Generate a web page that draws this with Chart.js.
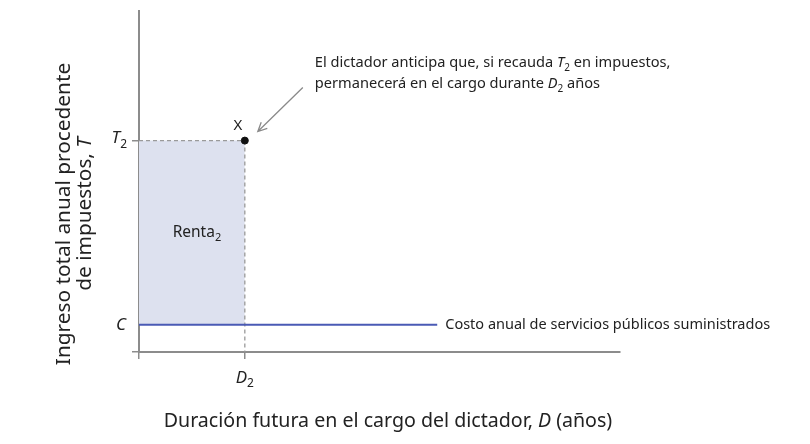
<!DOCTYPE html>
<html lang="es">
<head>
<meta charset="UTF-8">
<title>Renta del dictador</title>
<script src="https://cdn.jsdelivr.net/npm/chart.js"></script>
<style>
  body { margin: 0; background: #fff; }
  #wrap { width: 810px; height: 444px; }
</style>
</head>
<body>
<div id="wrap"><canvas id="rentChart" width="810" height="444"></canvas></div>
<script>
// Values (axes have no units, so 0..10 on both)
const xRange = [0, 10];
const yRange = [0, 10];
const durationD2 = 2.2;     // D2
const taxT2 = 6.2;          // T2
const costC = 0.8;          // C
const costLineEnd = 6.2;    // where the cost line stops
const xTicks = [0, durationD2];
const yTicks = [0, taxT2];
const xTickLabels = ['', 'D'];
const yTickLabels = ['', 'T'];

const FONT = '"Noto Sans", "Open Sans", sans-serif';
const GREY = '#8c8c8c';

// draws a run of text parts: [text, style] where style is '', 'i' or 'sub'
function drawRich(ctx, parts, x, y, size, align) {
  const fontFor = st => (st === 'i' ? 'italic ' : '') + (st === 'sub' ? Math.round(size * 0.68) : size) + 'px ' + FONT;
  let total = 0;
  parts.forEach(p => { ctx.font = fontFor(p[1]); total += ctx.measureText(p[0]).width; });
  let cx = align === 'center' ? x - total / 2 : align === 'right' ? x - total : x;
  ctx.textAlign = 'left';
  ctx.textBaseline = 'middle';
  parts.forEach(p => {
    ctx.font = fontFor(p[1]);
    ctx.fillText(p[0], cx, p[1] === 'sub' ? y + size * 0.35 : y);
    cx += ctx.measureText(p[0]).width;
  });
}

const labelsPlugin = {
  id: 'labels',
  afterDraw(chart) {
    const ctx = chart.ctx;
    const xs = chart.scales.x, ys = chart.scales.y;
    const px = xs.getPixelForValue(durationD2), py = ys.getPixelForValue(taxT2);
    const pc = ys.getPixelForValue(costC);
    ctx.save();
    ctx.fillStyle = '#222';

    // tick labels
    drawRich(ctx, [[yTickLabels[1], 'i'], ['2', 'sub']], xs.left - 12, py - 2, 17, 'right');
    drawRich(ctx, [['C', 'i']], xs.left - 13, pc, 17, 'right');
    drawRich(ctx, [[xTickLabels[1], 'i'], ['2', 'sub']], px, ys.bottom + 26, 17, 'center');

    // point and area labels
    drawRich(ctx, [['X', '']], px - 7, py - 15, 15, 'center');
    drawRich(ctx, [['Renta', ''], ['2', 'sub']], (xs.left + px) / 2 + 5, (py + pc) / 2, 15.5, 'center');

    // annotation
    drawRich(ctx, [['El dictador anticipa que, si recauda ', ''], ['T', 'i'], ['2', 'sub'], [' en impuestos,', '']], px + 70, py - 78, 14.6, 'left');
    drawRich(ctx, [['permanecerá en el cargo durante ', ''], ['D', 'i'], ['2', 'sub'], [' años', '']], px + 70, py - 57, 14.6, 'left');

    // arrow
    const ax0 = px + 58, ay0 = py - 53, ax1 = px + 13, ay1 = py - 9;
    ctx.strokeStyle = '#8a8a8a';
    ctx.lineWidth = 1.3;
    ctx.beginPath();
    ctx.moveTo(ax0, ay0);
    ctx.lineTo(ax1, ay1);
    const ang = Math.atan2(ay1 - ay0, ax1 - ax0);
    ctx.moveTo(ax1 - 10 * Math.cos(ang - 0.45), ay1 - 10 * Math.sin(ang - 0.45));
    ctx.lineTo(ax1, ay1);
    ctx.lineTo(ax1 - 10 * Math.cos(ang + 0.45), ay1 - 10 * Math.sin(ang + 0.45));
    ctx.stroke();

    // cost line label
    ctx.fillStyle = '#222';
    drawRich(ctx, [['Costo anual de servicios públicos suministrados', '']], xs.getPixelForValue(costLineEnd) + 8, pc, 14.5, 'left');

    // axis titles
    drawRich(ctx, [['Duración futura en el cargo del dictador, ', ''], ['D', 'i'], [' (años)', '']], 388, 421, 19.6, 'center');
    ctx.translate(0, 214);
    ctx.rotate(-Math.PI / 2);
    drawRich(ctx, [['Ingreso total anual procedente', '']], 0, 64, 20.8, 'center');
    drawRich(ctx, [['de impuestos, ', ''], ['T', 'i']], 0, 85, 20.8, 'center');
    ctx.restore();
  }
};

const axisBase = {
  type: 'linear',
  ticks: { display: false },
  grid: { drawOnChartArea: false, drawTicks: true, tickLength: 7, tickColor: GREY, lineWidth: 1.5 },
  border: { color: GREY, width: 2 }
};

new Chart(document.getElementById('rentChart'), {
  type: 'line',
  data: {
    datasets: [
      {
        label: 'X',
        data: [{ x: durationD2, y: taxT2 }],
        showLine: false,
        pointRadius: 3.5,
        pointBackgroundColor: '#111',
        pointBorderColor: '#111'
      },
      {
        label: 'Costo',
        data: [{ x: 0, y: costC }, { x: costLineEnd, y: costC }],
        borderColor: '#4a5ab5',
        borderWidth: 2,
        pointRadius: 0
      },
      {
        label: 'D2',
        data: [{ x: durationD2, y: taxT2 }, { x: durationD2, y: 0 }],
        borderColor: '#9a9a9a',
        borderWidth: 1.3,
        borderDash: [4, 3],
        pointRadius: 0
      },
      {
        label: 'Renta',
        data: [{ x: 0, y: taxT2 }, { x: durationD2, y: taxT2 }],
        borderColor: '#9a9a9a',
        borderWidth: 1.3,
        borderDash: [4, 3],
        backgroundColor: '#dde1ef',
        fill: { value: costC },
        pointRadius: 0
      }
    ]
  },
  options: {
    responsive: false,
    animation: false,
    layout: { padding: { left: 132, right: 190, top: 11, bottom: 85 } },
    plugins: { legend: { display: false }, tooltip: { enabled: false } },
    scales: {
      x: Object.assign({}, axisBase, {
        min: xRange[0], max: xRange[1],
        afterBuildTicks: s => { s.ticks = xTicks.map(v => ({ value: v })); },
        afterFit: s => { s.height = 7; }
      }),
      y: Object.assign({}, axisBase, {
        min: yRange[0], max: yRange[1],
        afterBuildTicks: s => { s.ticks = yTicks.map(v => ({ value: v })); },
        afterFit: s => { s.width = 7; }
      })
    }
  },
  plugins: [labelsPlugin]
});
</script>
</body>
</html>
